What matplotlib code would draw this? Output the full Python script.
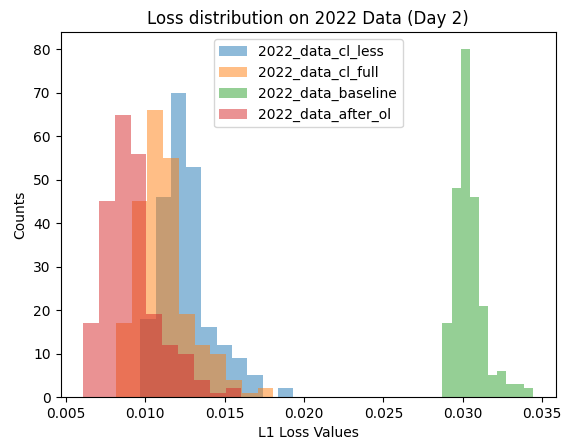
import numpy as np
from matplotlib import pyplot as plt

# counts per bin (10 bins each), plus the data range of each series
cl_less_counts = [18, 46, 70, 53, 16, 12, 9, 5, 0, 2]
cl_less_range = (0.009684, 0.019329)

cl_full_counts = [17, 45, 66, 55, 19, 12, 10, 4, 1, 2]
cl_full_range = (0.008146, 0.018063)

baseline_counts = [17, 48, 80, 46, 21, 5, 6, 3, 3, 2]
baseline_range = (0.028715, 0.034430)

after_ol_counts = [17, 45, 65, 56, 19, 12, 10, 4, 1, 2]
after_ol_range = (0.006089, 0.016057)

labels = ['2022_data_cl_less', '2022_data_cl_full', '2022_data_baseline', '2022_data_after_ol']


def main():
    fig = plt.figure(figsize=(5.61, 4.40), dpi=100)
    ax = fig.add_axes([0.108, 0.0977, 0.8826, 0.8295])

    series = [(cl_less_counts, cl_less_range),
              (cl_full_counts, cl_full_range),
              (baseline_counts, baseline_range),
              (after_ol_counts, after_ol_range)]
    for (counts, (lo, hi)), label in zip(series, labels):
        edges = np.linspace(lo, hi, len(counts) + 1)
        ax.hist(edges[:-1], bins=edges, weights=counts, alpha=0.5, label=label)

    ax.set_title('Loss distribution on 2022 Data (Day 2)')
    ax.set_xlabel('L1 Loss Values')
    ax.set_ylabel('Counts')
    ax.legend(loc='upper center')
    fig.savefig('out.png', dpi=100)


main()
